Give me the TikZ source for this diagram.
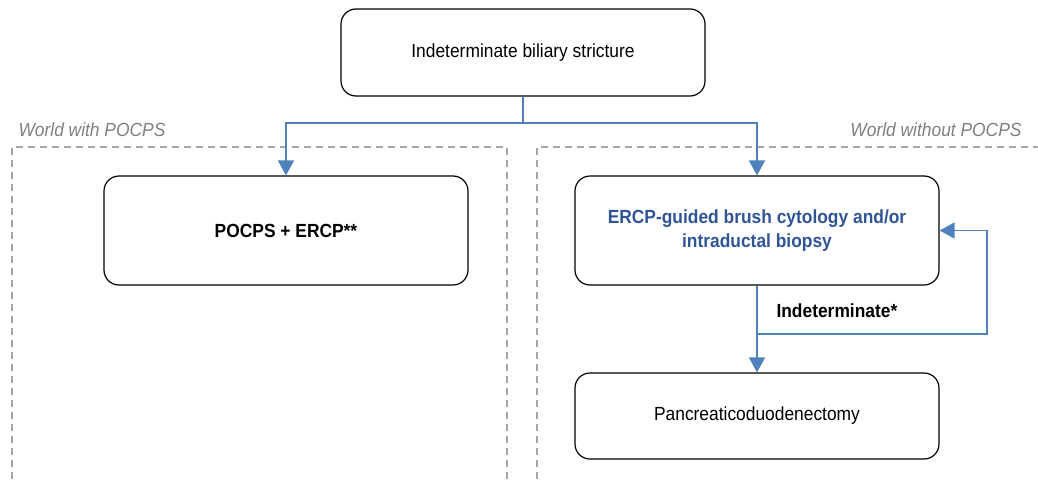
\documentclass[tikz,border=0pt]{standalone}
\usepackage{fontspec}
\setmainfont{Liberation Sans}[FakeStretch=0.915]
\usetikzlibrary{arrows.meta}
\usetikzlibrary{positioning}
\definecolor{flowblue}{RGB}{79,129,189}
\definecolor{textblue}{RGB}{47,85,151}
\definecolor{worldgray}{RGB}{166,166,166}
\definecolor{labelgray}{RGB}{128,128,128}

\begin{document}
\begin{tikzpicture}[x=1pt,y=-1pt,
              font=\fontsize{19}{24}\selectfont,
              box/.style={draw,line width=1.2pt,rounded corners=15pt,
                minimum width=364pt,align=center,inner sep=0pt},
              line/.style={draw=flowblue,line width=1.6pt},
              arr/.style={line,-{Triangle[length=15pt,width=16pt]}},
              world/.style={draw=worldgray,line width=1.2pt,dash pattern=on 7pt off 5pt},
              worldlabel/.style={text=labelgray,font=\fontsize{19}{24}\selectfont\itshape}]
  \useasboundingbox (0,0) rectangle (1038,479);
  \draw[world] (12,479) -- (12,147) -- (507,147) -- (507,479);
  \draw[world] (537,479) -- (537,147) -- (1038,147);
  \node[worldlabel,anchor=west] (wlabel) at (15,130) {World with POCPS};
  \node[worldlabel,anchor=east] (wolabel) at (1025,130) {World without POCPS};
  \node[box,minimum height=87pt] (top) at (523,52.5) {Indeterminate biliary stricture};
  \node[box,minimum height=109pt,font=\fontsize{19}{24}\selectfont\bfseries] (pocps) at (286,230.5)
    {POCPS + ERCP**};
  \node[box,minimum height=109pt,text=textblue,font=\fontsize{19}{24}\selectfont\bfseries] (ercp) at (757,230.5)
    {ERCP-guided brush cytology and/or\\intraductal biopsy};
  \node[box,minimum height=86pt] (pd) at (757,416) {Pancreaticoduodenectomy};
  \coordinate (split) at (523,123);
  \coordinate (ind) at (757,334);
  \coordinate (loop) at (987,334);
  \draw[line] (top.south) -- (split);
  \draw[arr] (split) -| (pocps.north);
  \draw[arr] (split) -| (ercp.north);
  \draw[line] (ercp.south) -- (ind);
  \draw[arr] (ind) -- (pd.north);
  \draw[arr] (ind) -- (loop) |- (ercp.east);
  \node[font=\fontsize{19}{24}\selectfont\bfseries,anchor=west] (indlabel) at (773,311) {Indeterminate*};
\end{tikzpicture}
\end{document}
